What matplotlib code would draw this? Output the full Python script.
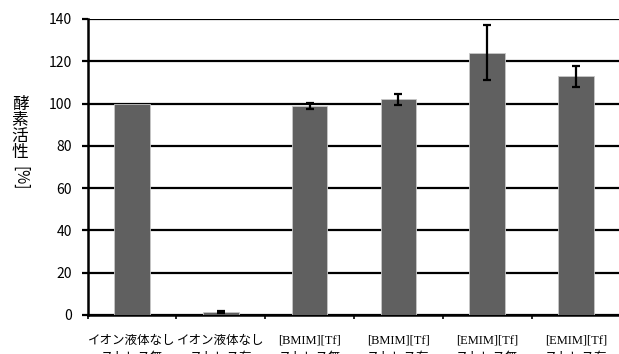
import matplotlib
matplotlib.use("Agg")
import matplotlib.pyplot as plt
import matplotlib.transforms as mtransforms

# Data
cat_line1 = ["イオン液体なし", "イオン液体なし", "[BMIM][Tf]", "[BMIM][Tf]", "[EMIM][Tf]", "[EMIM][Tf]"]
cat_line2 = ["ストレス無", "ストレス有", "ストレス無", "ストレス有", "ストレス無", "ストレス有"]
activity = [100, 1.5, 99, 102, 124, 113]
errors = [0, 0.5, 1.5, 2.5, 13, 5]
yticks = [0, 20, 40, 60, 80, 100, 120, 140]
ylabel_chars = ["酵", "素", "活", "性"]

jp = "Noto Sans CJK JP"

fig = plt.figure(figsize=(6.19, 3.54), dpi=100)
ax = fig.add_axes([87.5 / 619, 39 / 354, 533 / 619, 296 / 354])

x = list(range(len(activity)))
ax.bar(x, activity, width=0.4, color="#606060", edgecolor="#c8c8c8", linewidth=0.6, zorder=3)

# error bars only where an error exists (control bar has none)
ex = [i for i in x if errors[i] > 0]
ax.errorbar(ex, [activity[i] for i in ex], yerr=[errors[i] for i in ex], fmt="none",
            ecolor="black", elinewidth=1.6, capsize=3, capthick=1.6, zorder=4)

ax.set_xlim(-0.5, len(activity) - 0.5)
ax.set_ylim(0, 140)
ax.set_yticks(yticks)
ax.yaxis.grid(True, color="black", linewidth=1.6, zorder=0)
ax.set_axisbelow(True)

for side in ["top", "right"]:
    ax.spines[side].set_visible(False)
ax.spines["left"].set_linewidth(1.8)
ax.spines["bottom"].set_linewidth(1.8)

ax.tick_params(axis="y", length=4, width=1.6, pad=7, labelsize=10)
for lbl in ax.get_yticklabels():
    lbl.set_fontfamily(jp)

# category boundaries as small ticks, labels placed as text
ax.set_xticks([i - 0.5 for i in range(len(activity) + 1)])
ax.set_xticklabels([])
ax.tick_params(axis="x", length=3, width=1.2)

trans = mtransforms.blended_transform_factory(ax.transData, ax.transAxes)
for i, (l1, l2) in enumerate(zip(cat_line1, cat_line2)):
    if l1.startswith("["):
        fam = ["Liberation Serif", jp]
    else:
        fam = [jp, "DejaVu Sans"]
    ax.text(i, -0.085, l1, transform=trans, ha="center", va="center",
            fontsize=9, family=fam)
    ax.text(i, -0.142, l2, transform=trans, ha="center", va="center",
            fontsize=9, family=[jp, "DejaVu Sans"])

# vertical y label: stacked CJK characters, rotated [%]
for k, ch in enumerate(ylabel_chars):
    fig.text(20 / 619, 1 - (104 + 16 * k) / 354, ch, ha="center", va="center",
             fontsize=12, family=jp)
fig.text(20 / 619, 1 - 178 / 354, "[%]", ha="center", va="center",
         fontsize=11, rotation=270, family=jp)

fig.savefig("out.png", dpi=100)
